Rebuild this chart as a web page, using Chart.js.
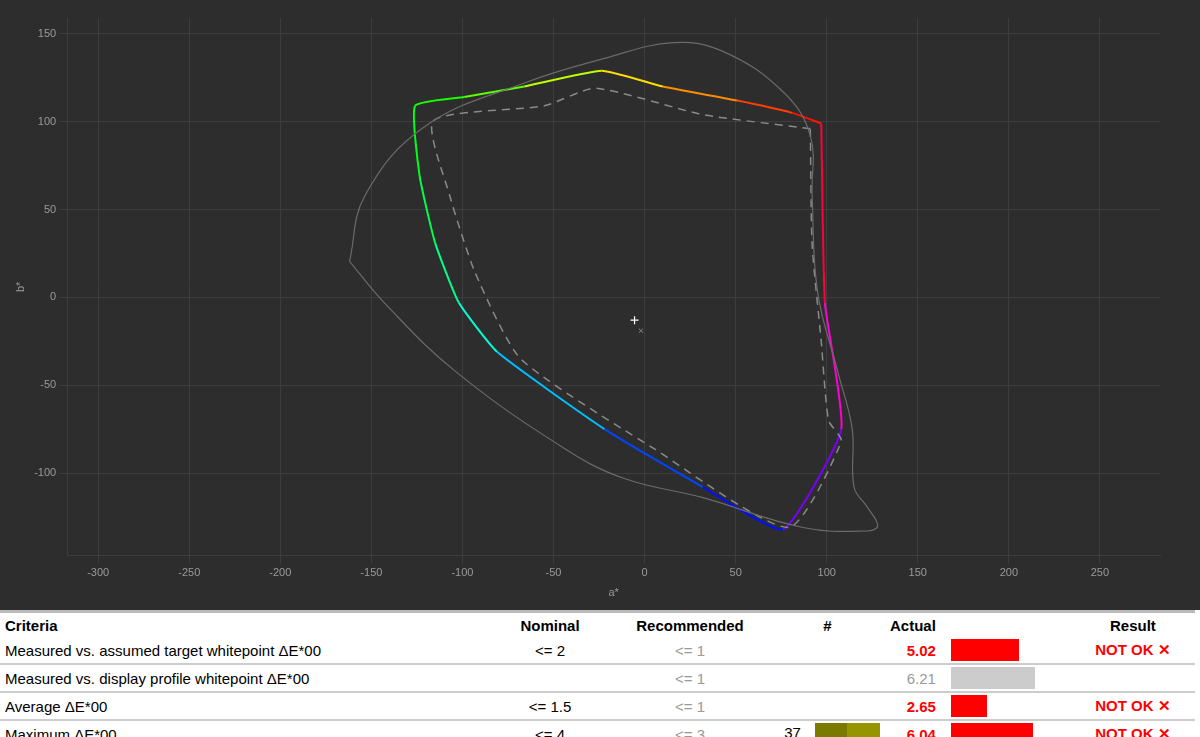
<!DOCTYPE html>
<html>
<head>
<meta charset="utf-8">
<script src="https://cdn.jsdelivr.net/npm/chart.js@4"></script>
<style>
  body { margin: 0; background: #fff; font-family: "Liberation Sans", Arial, sans-serif; }
  #plot { width: 1200px; height: 610px; background: #2d2d2d; position: relative; }
  table { border-collapse: collapse; width: 1195px; font-size: 15px; border-top: 3px solid #bbb; }
  th { font-weight: bold; text-align: left; padding: 3px 5px 2px; height: 19px; }
  td { padding: 2px 5px; height: 19px; border-bottom: 2px solid #ccc; }
  .c { text-align: center; }
  .r { text-align: right; }
  .grey { color: #999; }
  .red { color: #f00; font-weight: bold; }
  .bar { height: 22px; display: inline-block; vertical-align: middle; }
</style>
</head>
<body>
<div id="plot"><canvas id="chart"></canvas></div>
<table id="tbl"></table>
<script>
// measured gamut (a*, b*)
const measuredA = [97, 81, 51, 10, -23.5, -66, -99, -126, -123.5, -115, -102, -81, -22, 32, 76, 108, 99, 97];
const measuredB = [99, 105, 112, 120, 129, 120, 114, 109, 69, 31, -3, -31, -75, -108, -132, -75, -3, 99];
// target gamut (dashed)
const targetA = [91, 32, -27, -55, -116, -107, -93, -68, 5, 79, 108, 101, 97, 92, 91];
const targetB = [96, 104, 119, 109, 100.5, 58, 14, -35, -86, -131, -82, -70, -25, 30, 96];
// reference locus
const locusA = [-162, -153.5, -121, -66, -22, 16, 43, 76, 91, 92, 95, 106, 114, 115, 122, 128, 122, 87, 32, -11.5, -44, -104, -143, -162];
const locusB = [20.5, 58, 97, 122, 136, 145, 140, 117, 92, 58, 3, -42, -75, -108, -119, -130, -133, -131, -114, -103, -86, -42, -3, 20.5];
const whiteMeasured = [-5.5, -13];
const whiteTarget = [-2, -19];
const xTicks = [-300, -250, -200, -150, -100, -50, 0, 50, 100, 150, 200, 250];
const yTicks = [-100, -50, 0, 50, 100, 150];

const criteria = ['Measured vs. assumed target whitepoint ΔE*00', 'Measured vs. display profile whitepoint ΔE*00', 'Average ΔE*00', 'Maximum ΔE*00'];
const nominal = ['<= 2', '', '<= 1.5', '<= 4'];
const recommended = ['<= 1', '<= 1', '<= 1', '<= 3'];
const counts = ['', '', '', '37'];
const actual = [5.02, 6.21, 2.65, 6.04];
const results = ['NOT OK ✕', '', 'NOT OK ✕', 'NOT OK ✕'];

const zip = (xs, ys) => xs.map((x, i) => ({ x: x, y: ys[i] }));

// hue from a*b* angle, piecewise
function hueOf(a, b) {
    let ang = Math.atan2(b, a) * 180 / Math.PI;
    if (ang < 45) ang += 360;
    const stops = [[45, 0], [100, 60], [139, 120], [201, 180], [300, 240], [325, 300], [405, 360]];
    for (let i = 0; i < stops.length - 1; i++) {
        const [a0, h0] = stops[i], [a1, h1] = stops[i + 1];
        if (ang <= a1) return h0 + (h1 - h0) * (ang - a0) / (a1 - a0);
    }
    return 0;
}
function segColor(ctx) {
    const p = ctx.p0.parsed, q = ctx.p1.parsed;
    return 'hsl(' + hueOf((p.x + q.x) / 2, (p.y + q.y) / 2) + ',100%,50%)';
}

const gridColor = '#3d3d3d';
new Chart(document.getElementById('chart'), {
    type: 'scatter',
    data: {
        datasets: [
            { data: zip(locusA, locusB), showLine: true, borderColor: '#6a6a6a', borderWidth: 1.2, pointRadius: 0, tension: 0.4 },
            { data: zip(targetA, targetB), showLine: true, borderColor: '#8a8a8a', borderWidth: 1.5, borderDash: [8, 6], pointRadius: 0, tension: 0.2 },
            { data: zip(measuredA, measuredB), showLine: true, borderWidth: 2, pointRadius: 0, tension: 0.15, segment: { borderColor: segColor } },
            { data: [{ x: whiteMeasured[0], y: whiteMeasured[1] }], pointStyle: 'cross', pointRadius: 4, borderColor: '#fff', borderWidth: 1.2 },
            { data: [{ x: whiteTarget[0], y: whiteTarget[1] }], pointStyle: 'crossRot', pointRadius: 3, borderColor: '#888', borderWidth: 1 }
        ]
    },
    options: {
        responsive: true, maintainAspectRatio: false, animation: false,
        layout: { padding: { top: 18, right: 40, left: 10, bottom: 6 } },
        plugins: { legend: { display: false }, tooltip: { enabled: false } },
        scales: {
            x: {
                type: 'linear', min: -317, max: 283,
                afterBuildTicks: s => { s.ticks = xTicks.map(v => ({ value: v })); },
                grid: { color: gridColor }, border: { color: gridColor },
                ticks: { color: '#9a9a9a', font: { size: 11 } },
                title: { display: true, text: 'a*', color: '#9a9a9a', font: { size: 11 } }
            },
            y: {
                type: 'linear', min: -147, max: 159,
                afterBuildTicks: s => { s.ticks = yTicks.map(v => ({ value: v })); },
                grid: { color: gridColor }, border: { color: gridColor },
                ticks: { color: '#9a9a9a', font: { size: 11 } },
                title: { display: true, text: 'b*', color: '#9a9a9a', font: { size: 11 } }
            }
        }
    }
});

// table
const tbl = document.getElementById('tbl');
let html = '<tr><th>Criteria</th><th class="c">Nominal</th><th class="c">Recommended</th><th class="c">#</th><th class="r">Actual</th><th></th><th class="c">Result</th></tr>';
criteria.forEach((c, i) => {
    const fail = results[i] !== '';
    const barW = Math.round(actual[i] * 13.5);
    const countCell = counts[i] ? counts[i] + ' <span class="bar" style="width:32px;background:#7a7a00;margin-left:10px"></span><span class="bar" style="width:33px;background:#959500"></span>' : '';
    html += '<tr><td style="width:480px">' + c + '</td>' +
        '<td class="c" style="width:110px">' + nominal[i].replace('<', '&lt;') + '</td>' +
        '<td class="c grey" style="width:150px">' + recommended[i].replace('<', '&lt;') + '</td>' +
        '<td class="r" style="width:105px">' + countCell + '</td>' +
        '<td class="r ' + (fail ? 'red' : 'grey') + '" style="width:45px">' + actual[i].toFixed(2) + '</td>' +
        '<td style="width:115px;padding-left:10px"><span class="bar" style="width:' + barW + 'px;background:' + (fail ? '#f00' : '#ccc') + '"></span></td>' +
        '<td class="c red">' + results[i] + '</td></tr>';
});
tbl.innerHTML = html;
</script>
</body>
</html>
